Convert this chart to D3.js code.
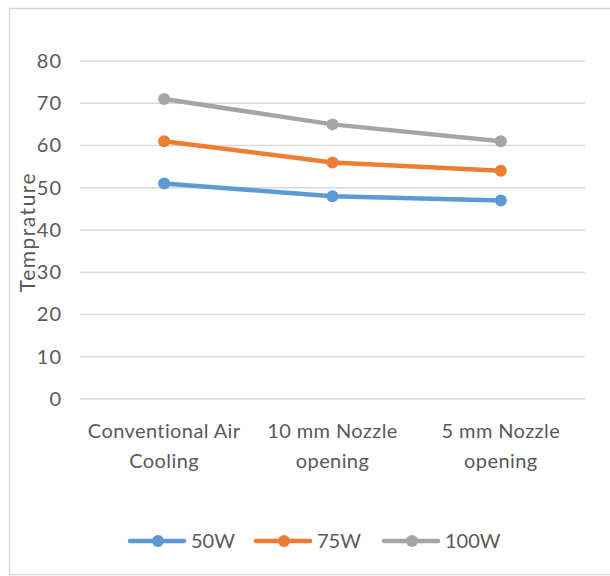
<!DOCTYPE html>
<html lang="en">
<head>
  <meta charset="UTF-8">
  <title>Temprature line chart</title>
  <script src="https://d3js.org/d3.v7.min.js"></script>
  <style>
    body { margin: 0; padding: 0; background: #fff; }
    svg { display: block; font-family: Lato, "Open Sans", sans-serif; }
  </style>
</head>
<body>
<svg id="chart" width="610" height="576"></svg>
<script>
  // data
  const categories = [["Conventional Air", "Cooling"], ["10 mm Nozzle", "opening"], ["5 mm Nozzle", "opening"]];
  const seriesNames = ["50W", "75W", "100W"];
  const values50 = [51, 48, 47];
  const values75 = [61, 56, 54];
  const values100 = [71, 65, 61];
  const yTicks = [0, 10, 20, 30, 40, 50, 60, 70, 80];
  const colors = ["#5B9BD5", "#ED7D31", "#A5A5A5"];

  const series = [values50, values75, values100].map((v, i) => ({ name: seriesNames[i], values: v, color: colors[i] }));

  const svg = d3.select("#chart");
  const margin = { left: 80, right: 25, top: 61, bottom: 177 };
  const W = 610, H = 576;
  const textCol = "#595959";

  // outer frame
  svg.append("rect").attr("x", 9.5).attr("y", 8.5).attr("width", 620).attr("height", 566)
    .attr("fill", "none").attr("stroke", "#D9D9D9").attr("stroke-width", 1.5);

  const x = d3.scaleBand().domain(d3.range(categories.length)).range([margin.left, W - margin.right]);
  const y = d3.scaleLinear().domain([0, 80]).range([H - margin.bottom, margin.top]);

  // gridlines
  svg.append("g").selectAll("line").data(yTicks).join("line")
    .attr("x1", margin.left).attr("x2", W - margin.right)
    .attr("y1", d => y(d)).attr("y2", d => y(d))
    .attr("stroke", "#D9D9D9").attr("stroke-width", 1.3);

  // y axis labels
  const yAxis = svg.append("g").attr("transform", `translate(${margin.left - 18},0)`)
    .call(d3.axisLeft(y).tickValues(yTicks).tickSize(0).tickPadding(0));
  yAxis.select(".domain").remove();
  yAxis.selectAll("text").attr("fill", textCol).attr("font-size", 20).attr("letter-spacing", 1)
    .attr("font-family", "Lato, 'Open Sans', sans-serif");

  // x category labels
  const xg = svg.append("g");
  categories.forEach((lines, i) => {
    const cx = x(i) + x.bandwidth() / 2;
    const t = xg.append("text").attr("x", cx).attr("y", 438)
      .attr("text-anchor", "middle").attr("fill", textCol).attr("font-size", 20).attr("letter-spacing", 0.4);
    lines.forEach((ln, j) => t.append("tspan").attr("x", cx).attr("dy", j ? 30 : 0).text(ln));
  });

  // y axis title
  svg.append("text").attr("transform", "translate(35,232) rotate(-90)")
    .attr("text-anchor", "middle").attr("fill", textCol).attr("font-size", 21).attr("letter-spacing", 1.5)
    .text("Temprature");

  // lines
  const line = d3.line().x((d, i) => x(i) + x.bandwidth() / 2).y(d => y(d));
  const sg = svg.append("g").selectAll("g").data(series).join("g");
  sg.append("path").attr("d", d => line(d.values)).attr("fill", "none")
    .attr("stroke", d => d.color).attr("stroke-width", 4.5).attr("stroke-linejoin", "round").attr("stroke-linecap", "round");
  sg.selectAll("circle").data(d => d.values.map(v => ({ v, c: d.color }))).join("circle")
    .attr("cx", (d, i) => x(i) + x.bandwidth() / 2).attr("cy", d => y(d.v)).attr("r", 6)
    .attr("fill", d => d.c);

  // legend
  const legX = [130, 256, 384];
  const lg = svg.append("g").selectAll("g").data(series).join("g")
    .attr("transform", (d, i) => `translate(${legX[i]},541)`);
  lg.append("line").attr("x1", 0).attr("x2", 54).attr("stroke", d => d.color)
    .attr("stroke-width", 4.5).attr("stroke-linecap", "round");
  lg.append("circle").attr("cx", 28).attr("r", 6).attr("fill", d => d.color);
  lg.append("text").attr("x", 61).attr("dy", "0.35em").attr("fill", textCol).attr("font-size", 20)
    .text(d => d.name);
</script>
</body>
</html>
